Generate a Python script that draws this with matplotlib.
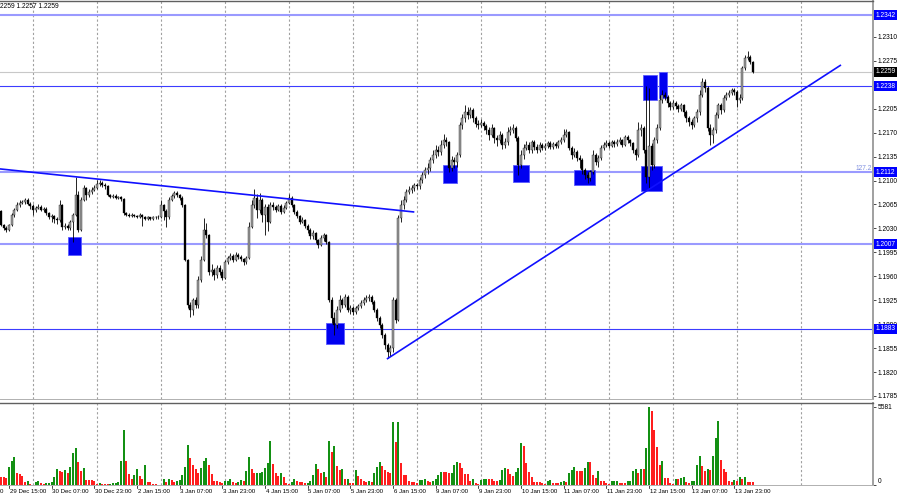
import numpy as np
import matplotlib
matplotlib.use('Agg')
import matplotlib.pyplot as plt
import matplotlib.transforms as mtransforms
from matplotlib.patches import Rectangle

plt.rcParams['font.family'] = ['Liberation Sans', 'DejaVu Sans']

# ---------------------------------------------------------------------------
# data (H1 bars, prices in pips above 1.2000)
# ---------------------------------------------------------------------------
BASE = 1.2000
first_open = 55

close_pips = [
    35, 31, 28, 35, 50, 57, 64, 67, 68, 72, 66, 63,
    # 30 Dec
    57, 60, 62, 57, 59, 52, 47, 48, 44, 42, 64, 32, 34, 31, 39, 50, 79, 28, 72, 89, 79, 83, 86, 89,
    # 2 Jan
    95, 96, 93, 92, 79, 76, 78, 75, 76, 73, 52, 50, 48, 50, 48, 47, 50, 46, 44, 46, 44, 46, 46, 47,
    # 3 Jan
    64, 56, 46, 72, 77, 82, 79, 75, 64, -16, -82, -89, -75, -82, -45, -16, 28, 20, -34, -31, -38, -28, -34, -42,
    # 4 Jan
    -19, -13, -10, -16, -9, -12, -15, -19, -13, 32, 64, 75, 57, 72, 50, 61, 40, 64, 61, 57, 63, 54, 60, 67,
    # 5 Jan
    75, 64, 54, 48, 40, 42, 34, 28, 19, 23, 13, 6, 16, 20, 10, -75, -101, -111, -89, -75, -82, -71, -89, -86,
    # 6 Jan
    -92, -86, -83, -79, -75, -72, -70, -78, -89, -101, -111, -126, -140, -151, -145, -75, -104, 45, 64, 72, 83, 86, 89, 93,
    # 9 Jan
    92, 101, 108, 115, 118, 130, 137, 145, 142, 152, 159, 156, 118, 130, 127, 137, 181, 191, 200, 196, 203, 191, 183, 181,
    # 10 Jan
    184, 180, 174, 167, 177, 162, 159, 167, 152, 156, 171, 174, 177, 162, 123, 137, 148, 152, 145, 156, 149, 145, 152, 148,
    # 11 Jan
    151, 155, 149, 154, 151, 156, 159, 167, 171, 148, 137, 142, 133, 130, 115, 108, 104, 112, 137, 127, 133, 148, 152, 155,
    # 12 Jan
    151, 156, 153, 156, 159, 152, 163, 159, 155, 145, 137, 174, 177, 145, 105, 150, 123, 159, 177, 218, 225, 222, 213, 208,
    # 13 Jan
    213, 209, 205, 210, 200, 191, 186, 181, 191, 200, 225, 244, 235, 177, 167, 174, 196, 210, 203, 221, 225, 228, 232, 229,
    # 16 Jan
    218, 221, 265, 279, 281, 273, 259,
]

high_pips = [
    57, 37, 33, 37, 53, 60, 68, 71, 72, 75, 74, 68,
    65, 63, 65, 64, 62, 61, 54, 51, 50, 46, 72, 66, 38, 37, 42, 52, 105, 84, 76, 93, 91, 88, 90, 94,
    101, 101, 99, 96, 94, 81, 80, 80, 78, 78, 75, 54, 52, 52, 51, 50, 52, 51, 48, 48, 47, 48, 48, 49,
    72, 66, 58, 76, 81, 85, 84, 81, 77, 66, -14, -78, -72, -70, -40, -10, 45, 38, 22, -22, -28, -24, -24, -30,
    -16, -10, -6, -7, -5, -6, -9, -13, -10, 40, 72, 88, 80, 82, 75, 66, 65, 68, 68, 64, 66, 65, 64, 70,
    80, 77, 66, 57, 50, 46, 44, 37, 30, 27, 25, 15, 20, 24, 22, 12, -70, -92, -84, -67, -72, -66, -68, -82,
    -83, -84, -80, -75, -70, -68, -66, -67, -75, -86, -98, -108, -123, -138, -140, -70, -72, 50, 72, 78, 88, 92, 93, 97,
    96, 105, 113, 120, 126, 134, 145, 152, 150, 160, 168, 164, 158, 136, 135, 142, 186, 198, 210, 208, 208, 206, 194, 188,
    190, 187, 183, 178, 182, 179, 167, 172, 170, 162, 178, 180, 183, 180, 165, 144, 154, 158, 156, 160, 160, 153, 156, 155,
    155, 158, 158, 157, 157, 160, 164, 176, 176, 173, 150, 147, 145, 137, 133, 118, 112, 116, 145, 140, 137, 152, 157, 160,
    158, 160, 159, 161, 164, 161, 166, 166, 161, 157, 148, 186, 182, 180, 238, 236, 155, 163, 182, 225, 232, 230, 225, 216,
    218, 216, 212, 214, 212, 203, 195, 190, 195, 205, 232, 250, 248, 238, 182, 178, 200, 214, 213, 225, 230, 233, 236, 235,
    232, 226, 268, 283, 290, 284, 275,
]

low_pips = [
    33, 28, 25, 26, 33, 47, 55, 62, 65, 66, 64, 58,
    50, 54, 58, 55, 54, 49, 44, 40, 38, 37, 40, 28, 29, 27, 28, 10, 48, 25, 26, 70, 72, 76, 80, 84,
    87, 92, 90, 88, 77, 74, 74, 73, 73, 70, 50, 48, 46, 46, 46, 45, 45, 34, 42, 43, 42, 43, 44, 44,
    45, 42, 32, 44, 70, 75, 76, 72, 62, -18, -86, -99, -97, -86, -86, -48, -18, 16, -38, -40, -45, -42, -38, -45,
    -44, -22, -16, -19, -18, -15, -18, -23, -22, -15, 30, 60, 45, 52, 40, 20, 26, 38, 57, 54, 55, 51, 52, 58,
    65, 61, 51, 45, 36, 38, 30, 24, 14, 15, 9, 2, 4, 12, 7, -78, -108, -126, -115, -92, -86, -85, -92, -95,
    -96, -95, -89, -86, -82, -78, -76, -81, -92, -105, -116, -130, -146, -160, -157, -150, -108, -106, 40, 58, 68, 80, 82, 85,
    87, 88, 97, 104, 110, 114, 126, 133, 136, 138, 148, 150, 112, 114, 118, 120, 134, 176, 186, 190, 192, 186, 178, 176,
    178, 174, 168, 160, 163, 155, 150, 155, 146, 148, 152, 166, 170, 158, 108, 118, 132, 144, 140, 140, 145, 140, 142, 144,
    145, 148, 146, 146, 147, 148, 153, 156, 163, 144, 132, 134, 128, 118, 110, 102, 97, 100, 110, 122, 120, 130, 145, 149,
    147, 149, 149, 151, 154, 149, 150, 155, 150, 140, 130, 134, 165, 140, 96, 89, 115, 118, 155, 174, 214, 218, 208, 203,
    205, 204, 200, 202, 195, 186, 180, 175, 178, 186, 196, 222, 230, 172, 152, 155, 170, 192, 198, 200, 218, 222, 225, 225,
    208, 214, 218, 262, 276, 270, 257,
]

volumes = [
    560, 540, 500, 1320, 1750, 1990, 890, 790, 650, 240, 290, 70,
    30, 210, 290, 120, 100, 140, 150, 220, 550, 1130, 1010, 960, 1080, 840, 1320, 2280, 2690, 1630, 1030, 1220, 360, 340, 330, 320,
    50, 110, 60, 50, 40, 70, 110, 150, 220, 1750, 3960, 1750, 790, 430, 740, 1150, 620, 430, 1440, 190, 180, 50, 40, 30,
    10, 460, 240, 410, 360, 220, 310, 340, 700, 1320, 2860, 1940, 1440, 1130, 890, 1220, 1750, 1940, 1440, 790, 290, 280, 190, 120,
    290, 310, 430, 220, 160, 190, 340, 260, 980, 2040, 1130, 860, 880, 890, 900, 1250, 1560, 3190, 1490, 840, 650, 840, 550, 170,
    70, 190, 410, 260, 250, 190, 120, 170, 290, 700, 1510, 1180, 890, 960, 600, 3190, 2400, 2810, 1390, 1080, 1130, 410, 430, 170,
    110, 1080, 650, 460, 290, 190, 260, 220, 890, 1270, 1660, 1370, 1080, 900, 880, 4540, 3100, 4560, 1560, 740, 700, 260, 240, 220,
    120, 340, 360, 410, 260, 220, 310, 410, 720, 940, 930, 900, 860, 890, 1420, 1660, 1560, 1200, 790, 780, 310, 460, 120, 50,
    360, 410, 460, 450, 440, 290, 280, 360, 1080, 1200, 1150, 790, 670, 960, 1200, 3000, 2810, 1560, 940, 600, 220, 210, 190, 120,
    50, 290, 340, 170, 160, 150, 220, 260, 220, 890, 1080, 1270, 1030, 1020, 1010, 1200, 1630, 1620, 700, 500, 980, 290, 280, 120,
    50, 290, 310, 320, 170, 160, 150, 290, 310, 980, 1180, 890, 1130, 1120, 2640, 5581, 5330, 3960, 2760, 1440, 1730, 480, 470, 120,
    50, 430, 410, 480, 550, 220, 170, 310, 320, 1460, 2090, 1370, 980, 1130, 1080, 2090, 3380, 4580, 1800, 1130, 960, 260, 250, 360,
    260, 550, 410, 550, 220, 210, 200,
]

# day separators (00:00 bars) and bottom time labels
grid_bars = [12, 36, 60, 84, 108, 132, 156, 180, 204, 228, 252, 276, 300]
time_label_bars = [-13, 3, 19, 35, 51, 67, 83, 99, 115, 131, 147, 163, 179, 195, 211, 227, 243, 259, 275]
time_labels = ['28 Dec 23:00', '29 Dec 15:00', '30 Dec 07:00', '30 Dec 23:00', '2 Jan 15:00',
               '3 Jan 07:00', '3 Jan 23:00', '4 Jan 15:00', '5 Jan 07:00', '5 Jan 23:00',
               '6 Jan 15:00', '9 Jan 07:00', '9 Jan 23:00', '10 Jan 15:00', '11 Jan 07:00',
               '11 Jan 23:00', '12 Jan 15:00', '13 Jan 07:00', '13 Jan 23:00']

price_ticks = [1.2310, 1.2275, 1.2205, 1.2170, 1.2135, 1.2100, 1.2065, 1.2030,
               1.1995, 1.1960, 1.1925, 1.1890, 1.1855, 1.1820, 1.1785]

light_levels = [1.2342, 1.2112, 1.2007]
dark_levels = [1.2238, 1.1883]
last_price = 1.2259

trend_down_x = [-0.4, 155.0]
trend_down_y = [1.2117, 1.2054]
trend_up_x = [144.7, 315.0]
trend_up_y = [1.1839, 1.2269]

# analyst boxes: (bar from, bar to, price low, price high)
zone_boxes = [
    (25.0, 29.9, 1.1991, 1.2018),
    (121.9, 128.7, 1.1861, 1.1892),
    (165.8, 170.9, 1.2096, 1.2123),
    (191.9, 197.9, 1.2098, 1.2122),
    (214.8, 222.8, 1.2094, 1.2115),
    (240.8, 245.9, 1.2218, 1.2254),
    (246.8, 249.8, 1.2220, 1.2258),
    (239.9, 247.8, 1.2084, 1.2121),
]

n = len(close_pips)
assert len(high_pips) == n and len(low_pips) == n and len(volumes) == n

idx = np.arange(n)
c = BASE + np.array(close_pips) / 1e4
o = BASE + np.array([first_open] + close_pips[:-1]) / 1e4
hi = BASE + np.array(high_pips) / 1e4
lo = BASE + np.array(low_pips) / 1e4

# ---------------------------------------------------------------------------
# figure
# ---------------------------------------------------------------------------
W, H = 900, 500
fig = plt.figure(figsize=(9, 5), dpi=100)
fig.patch.set_facecolor('white')

ax = fig.add_axes([0, 1 - 399 / H, 873 / W, 398 / H])
axv = fig.add_axes([0, 1 - 485 / H, 873 / W, 82 / H])

XMIN, XMAX = -0.375, 327.0
ax.set_xlim(XMIN, XMAX)
ax.set_ylim(1.17806, 1.23625)
axv.set_xlim(XMIN, XMAX)
axv.set_ylim(0, 5890)

for a in (ax, axv):
    a.set_facecolor('white')
    a.spines['left'].set_visible(False)
    a.spines['right'].set_color('#a0a0a0')
    a.spines['right'].set_linewidth(1.4)
    a.spines['top'].set_color('#606060')
    a.spines['top'].set_linewidth(1.0)
    a.spines['bottom'].set_color('#b0b0b0')
    a.spines['bottom'].set_linewidth(0.7)
    a.set_xticks([])
    a.yaxis.tick_right()
    a.tick_params(axis='y', length=2, width=0.5, pad=1.5, labelsize=4.8, colors='black')
    for gb in grid_bars:
        a.axvline(gb, color='#a0a0a0', lw=0.8, ls=(0, (2, 2)), zorder=0.5)

# price panel ---------------------------------------------------------------
ax.set_yticks(price_ticks)
ax.set_yticklabels([f'{t:.4f}' for t in price_ticks])

ax.axhline(last_price, color='#c8c8c8', lw=0.8, zorder=1)
for lv in light_levels:
    ax.axhline(lv, color='#9a9aff', lw=1.5, zorder=1)
for lv in dark_levels:
    ax.axhline(lv, color='#3c3cff', lw=0.8, zorder=1)

for b0, b1, p0, p1 in zone_boxes:
    ax.add_patch(Rectangle((b0, p0), b1 - b0, p1 - p0, facecolor='#0000f0',
                           edgecolor='#5a5aff', lw=0.6, zorder=2))

up = c >= o
body_lo = np.minimum(o, c)
body_h = np.maximum(np.abs(c - o), 0.00003)
ax.vlines(idx, lo, hi, color='black', lw=0.6, zorder=3)
ax.bar(idx[up], body_h[up], bottom=body_lo[up], width=0.72, color='#a0a0a0',
       edgecolor='black', linewidth=0.25, zorder=3.5)
ax.bar(idx[~up], body_h[~up], bottom=body_lo[~up], width=0.72, color='black',
       edgecolor='black', linewidth=0.25, zorder=3.5)

ax.plot(trend_down_x, trend_down_y, color='#1010ff', lw=1.2, zorder=4, solid_capstyle='butt')
ax.plot(trend_up_x, trend_up_y, color='#1010ff', lw=1.2, zorder=4, solid_capstyle='butt')

tr = mtransforms.blended_transform_factory(ax.transAxes, ax.transData)
for lv in light_levels + dark_levels:
    ax.text(1.003, lv, f'{lv:.4f}', transform=tr, ha='left', va='center', fontsize=4.8,
            color='white', clip_on=False, zorder=6,
            bbox=dict(boxstyle='square,pad=0.22', fc='#0000ff', ec='none'))
ax.text(1.003, last_price, f'{last_price:.4f}', transform=tr, ha='left', va='center',
        fontsize=4.8, color='white', clip_on=False, zorder=6,
        bbox=dict(boxstyle='square,pad=0.22', fc='black', ec='none'))

ax.text(0.999, 1.2112, '127.2', transform=tr, ha='right', va='bottom', fontsize=4.8,
        color='#8090e0', zorder=5)
ax.text(0.0, 0.985, '2259 1.2257 1.2259', transform=ax.transAxes, ha='left', va='center',
        fontsize=4.8, color='black')

# volume panel --------------------------------------------------------------
vol = np.array(volumes)
prev = np.concatenate([[np.inf], vol[:-1]])
vcol = np.where(vol > prev, '#139013', '#ff1e1e')
axv.bar(idx, vol, width=0.75, color=vcol, zorder=2)

axv.set_yticks([0, max(volumes)])
axv.set_yticklabels(['0', str(max(volumes))])
vlabels = axv.get_yticklabels()
vlabels[0].set_verticalalignment('bottom')
vlabels[1].set_verticalalignment('center')

trv = mtransforms.blended_transform_factory(axv.transData, axv.transAxes)
for b, lab in zip(time_label_bars, time_labels):
    axv.plot([b, b], [0, -0.04], color='black', lw=0.5, transform=trv, clip_on=False)
    axv.text(b + 0.3, -0.085, lab, transform=trv, ha='left', va='center',
             fontsize=4.4, color='black', clip_on=False)

fig.savefig('out.png', dpi=100, facecolor='white')
